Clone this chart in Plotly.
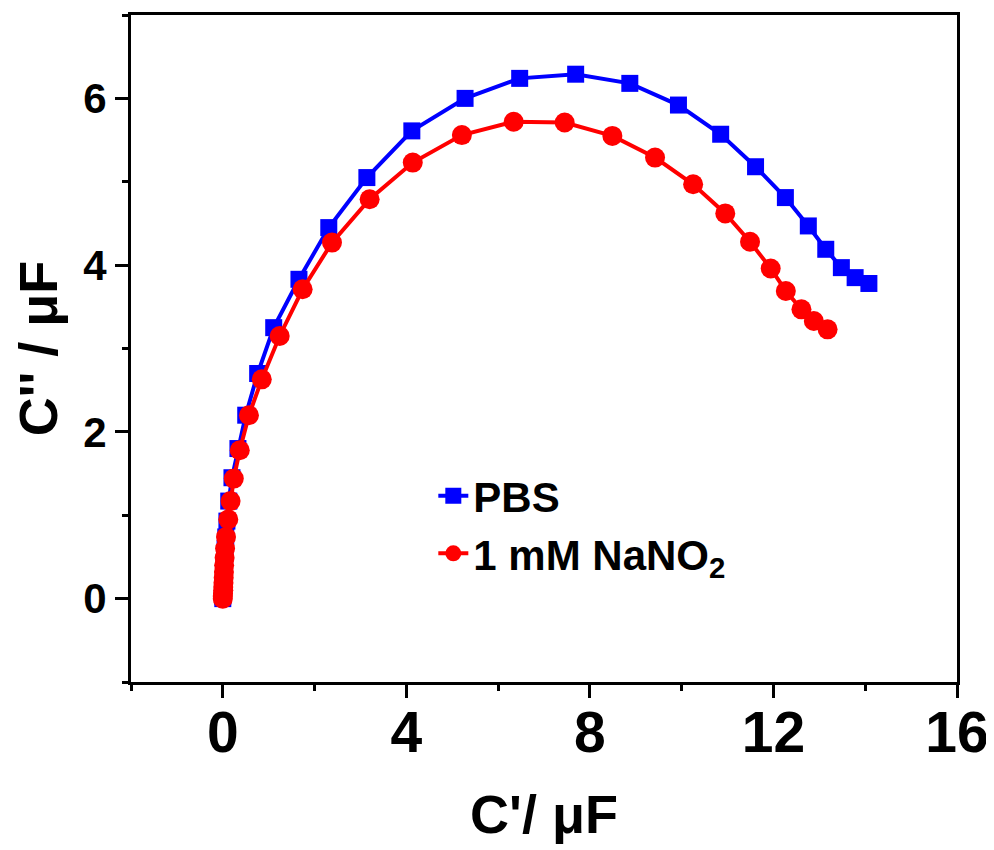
import plotly.graph_objects as go

# PBS (blue squares)
pbs_x = [0.00, 0.00, 0.005, 0.01, 0.01, 0.015, 0.02, 0.025, 0.03, 0.04, 0.05, 0.065, 0.09, 0.13,
         0.20, 0.33, 0.50, 0.76, 1.11, 1.66, 2.31, 3.14, 4.12, 5.28, 6.47, 7.69, 8.87, 9.93,
         10.85, 11.61, 12.26, 12.76, 13.14, 13.48, 13.78, 14.08]
pbs_y = [0.00, 0.03, 0.06, 0.10, 0.14, 0.19, 0.25, 0.32, 0.40, 0.49, 0.60, 0.74, 0.93, 1.17,
         1.45, 1.80, 2.20, 2.70, 3.25, 3.83, 4.45, 5.05, 5.61, 6.00, 6.24, 6.29, 6.18, 5.92,
         5.57, 5.18, 4.81, 4.47, 4.19, 3.97, 3.85, 3.78]

# 1 mM NaNO2 (red circles)
nano2_x = [0.00, 0.00, 0.005, 0.01, 0.01, 0.015, 0.02, 0.025, 0.03, 0.04, 0.05, 0.07, 0.12, 0.17,
           0.24, 0.37, 0.57, 0.85, 1.24, 1.74, 2.38, 3.20, 4.14, 5.21, 6.34, 7.45, 8.49, 9.42,
           10.25, 10.95, 11.49, 11.94, 12.27, 12.61, 12.88, 13.18]
nano2_y = [0.00, 0.03, 0.06, 0.10, 0.14, 0.19, 0.25, 0.32, 0.40, 0.49, 0.60, 0.74, 0.95, 1.17,
           1.44, 1.78, 2.20, 2.63, 3.15, 3.71, 4.27, 4.79, 5.23, 5.56, 5.72, 5.71, 5.55, 5.29,
           4.97, 4.62, 4.28, 3.96, 3.69, 3.47, 3.33, 3.23]

series_names = ["PBS", "1 mM NaNO<sub>2</sub>"]
x_title = "C'/ μF"
y_title = "C'' / μF"

FONT = "Liberation Sans, Arial, sans-serif"

fig = go.Figure()
fig.add_trace(go.Scatter(
    x=pbs_x, y=pbs_y, mode="lines+markers", name=series_names[0],
    legendgroup="a",
    line=dict(color="#0000FF", width=4),
    marker=dict(symbol="square", size=17, color="#0000FF"),
))
fig.add_trace(go.Scatter(
    x=nano2_x, y=nano2_y, mode="lines+markers", name=series_names[1],
    legendgroup="b",
    line=dict(color="#FF0000", width=4),
    marker=dict(symbol="circle", size=20, color="#FF0000"),
))

axis_common = dict(
    showline=True, linecolor="black", linewidth=3, mirror=True,
    ticks="outside", ticklen=13, tickwidth=3, tickcolor="black",
    showgrid=False, zeroline=False, automargin=False,
)

fig.update_xaxes(
    range=[-2, 16], tick0=0, dtick=4,
    minor=dict(ticks="outside", dtick=2, ticklen=6, tickwidth=3, tickcolor="black"),
    tickfont=dict(family=FONT, size=57, color="black", weight="bold"),
    ticklabelstandoff=-14,
    title=dict(text=x_title, font=dict(family=FONT, size=54, color="black", weight="bold"),
               standoff=32),
    **axis_common,
)
fig.update_yaxes(
    range=[-1, 7], tick0=0, dtick=2,
    minor=dict(ticks="outside", dtick=1, ticklen=6, tickwidth=3, tickcolor="black"),
    tickfont=dict(family=FONT, size=42, color="black", weight="bold"),
    title=dict(text=y_title, font=dict(family=FONT, size=54, color="black", weight="bold")),
    **axis_common,
)

fig.update_layout(
    width=986, height=842,
    margin=dict(l=123, r=37, t=7, b=168),
    paper_bgcolor="white", plot_bgcolor="white",
    showlegend=True,
    legend=dict(
        x=0.366, y=0.33, xanchor="left", yanchor="top",
        bgcolor="rgba(0,0,0,0)", borderwidth=0,
        font=dict(family=FONT, size=42, color="black", weight="bold"),
        traceorder="grouped", tracegroupgap=0,
    ),
)

fig.write_html("out.html")
